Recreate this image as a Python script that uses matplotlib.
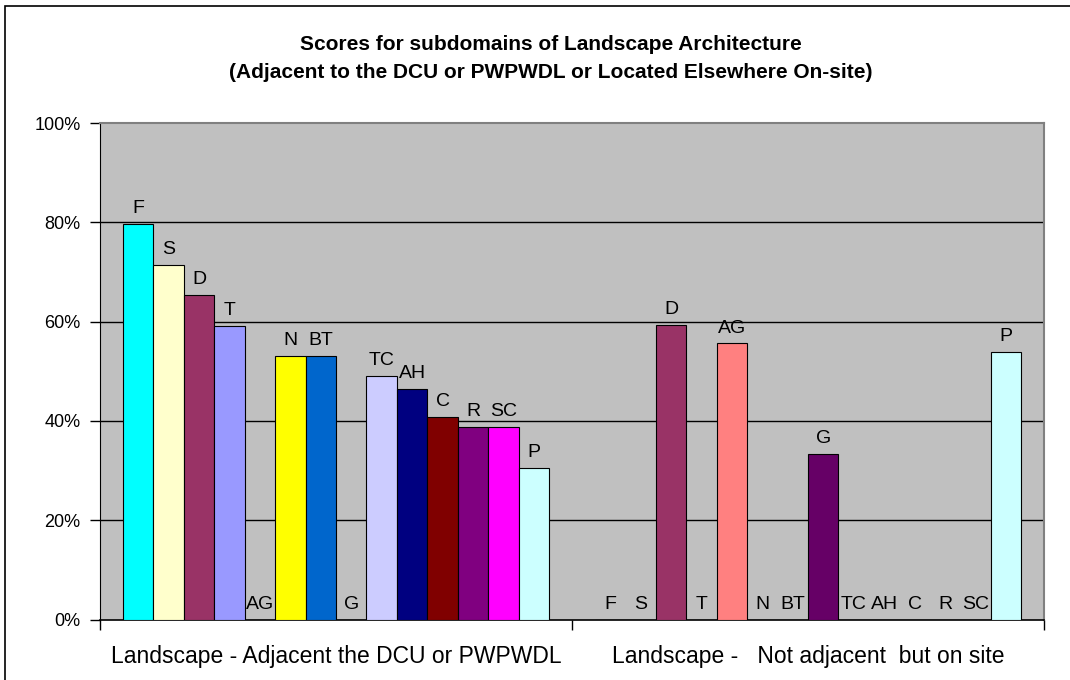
import matplotlib
matplotlib.use("Agg")
import matplotlib.pyplot as plt
from matplotlib.patches import Rectangle
from matplotlib.ticker import FixedLocator, PercentFormatter

plt.rcParams['font.family'] = ['Liberation Sans', 'DejaVu Sans']

categories = ["Landscape - Adjacent the DCU or PWPWDL", "Landscape -   Not adjacent  but on site"]
series = ["F", "S", "D", "T", "AG", "N", "BT", "G", "TC", "AH", "C", "R", "SC", "P"]
adjacent = [79.6, 71.4, 65.3, 59.2, 0, 53.1, 53.1, 0, 49.0, 46.4, 40.8, 38.8, 38.8, 30.6]
elsewhere = [0, 0, 59.3, 0, 55.6, 0, 0, 33.4, 0, 0, 0, 0, 0, 53.8]
colors = ["#00FFFF", "#FFFFCC", "#993366", "#9999FF", "#FF8080", "#FFFF00", "#0066CC",
          "#660066", "#CCCCFF", "#000080", "#800000", "#800080", "#FF00FF", "#CCFFFF"]
yticks = [0, 20, 40, 60, 80, 100]

fig = plt.figure(figsize=(10.7, 6.8), dpi=100)
fig.patch.set_facecolor("white")
fig.patches.append(Rectangle((5/1070, -0.01), 1.2, 1 - 6/680 + 0.01, transform=fig.transFigure,
                             fill=False, edgecolor="black", linewidth=1.2))

ax = fig.add_axes([100/1070, 60.5/680, 944/1070, 496.5/680])
ax.set_facecolor("#C0C0C0")

n = len(series)
w = 1 / (n + 1.5)
xs = [0, 1]
for i, name in enumerate(series):
    vals = [adjacent[i], elsewhere[i]]
    pos = [x + (i - (n - 1) / 2) * w for x in xs]
    bc = ax.bar(pos, vals, width=w, color=colors[i], edgecolor="black", linewidth=0.8, zorder=3)
    ax.bar_label(bc, labels=[name, name], padding=5, fontsize=14, color="black")

ax.set_ylim(0, 100)
ax.set_xlim(-0.5, 1.5)
ax.yaxis.set_major_locator(FixedLocator(yticks))
ax.yaxis.set_major_formatter(PercentFormatter(decimals=0))
ax.tick_params(axis="y", labelsize=13, length=7, width=1, direction="out", pad=7)
for y in yticks[1:-1]:
    ax.axhline(y, color="black", linewidth=1, zorder=1)

ax.set_xticks([-0.5, 0.5, 1.5])
ax.set_xticklabels(["", "", ""])
ax.tick_params(axis="x", length=7, width=1, direction="out")
ax.set_xticks(xs, minor=True)
ax.set_xticklabels(categories, minor=True, fontsize=16.5)
ax.tick_params(axis="x", which="minor", length=0, pad=18)

for s in ["top", "right"]:
    ax.spines[s].set_color("#808080")
    ax.spines[s].set_linewidth(1.5)
ax.spines["left"].set_color("black")
ax.spines["bottom"].set_color("black")
ax.spines["bottom"].set_linewidth(1.2)

fig.text(551/1070, 1 - 45/680, "Scores for subdomains of Landscape Architecture",
         ha="center", va="center", fontsize=15, fontweight="bold")
fig.text(551/1070, 1 - 72/680, "(Adjacent to the DCU or PWPWDL or Located Elsewhere On-site)",
         ha="center", va="center", fontsize=15, fontweight="bold")

fig.savefig("out.png", dpi=100)
